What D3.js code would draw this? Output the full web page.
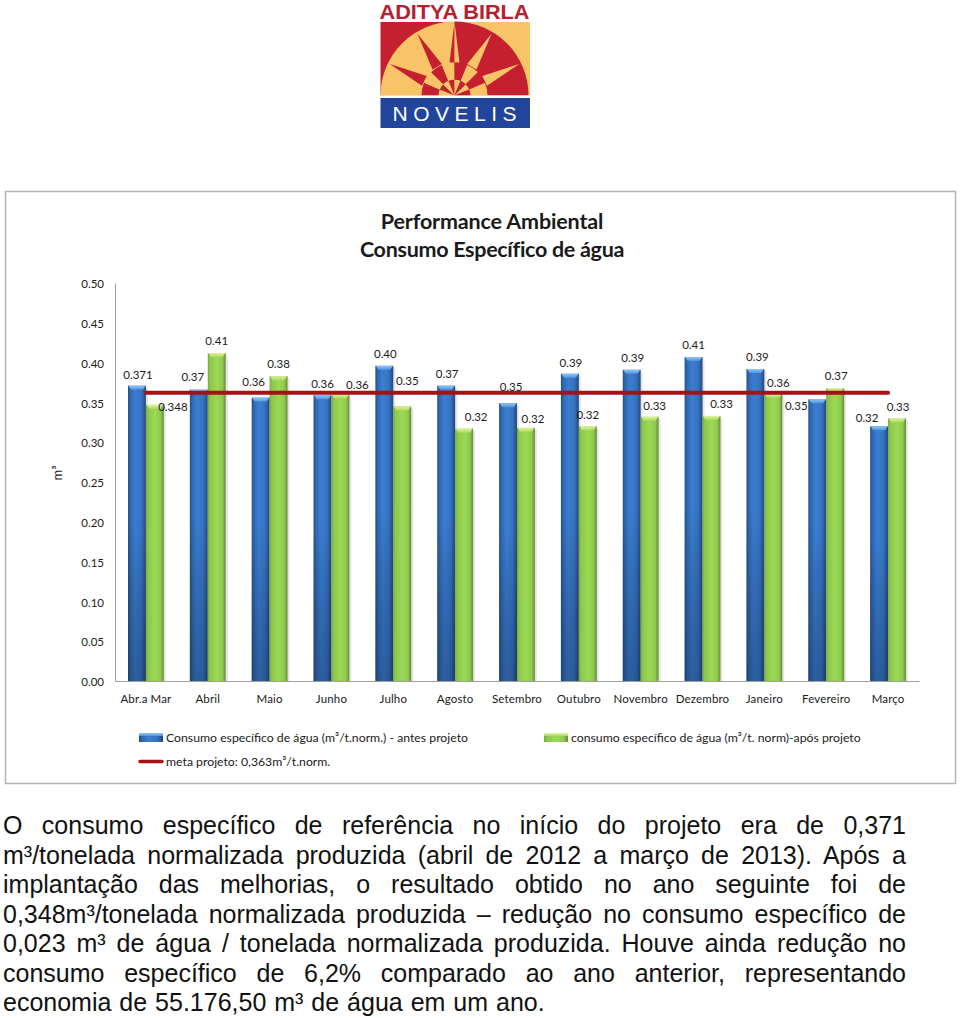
<!DOCTYPE html>
<html>
<head>
<meta charset="utf-8">
<script src="https://cdn.jsdelivr.net/npm/d3@7"></script>
<style>
    html, body { margin: 0; padding: 0; background: #fff; }
    #page { position: relative; width: 960px; height: 1018px; overflow: hidden; }
    svg { position: absolute; left: 0; top: 0; }
    svg text { font-family: Lato, sans-serif; fill: #1a1a1a; }
    #texto { position: absolute; left: 3px; top: 811px; width: 903px; font-family: "Liberation Sans", Arial, sans-serif; font-size: 25px; line-height: 29.5px; color: #111; }
    #texto div { text-align: justify; text-align-last: justify; white-space: nowrap; }
    #texto div:last-child { text-align-last: left; word-spacing: 1px; }
</style>
</head>
<body>
<div id="page"><div id="texto"></div></div>
<script>
var meses = ['Abr.a Mar', 'Abril', 'Maio', 'Junho', 'Julho', 'Agosto', 'Setembro', 'Outubro', 'Novembro', 'Dezembro', 'Janeiro', 'Fevereiro', 'Março'];

// bar heights
var antes = [0.371, 0.366, 0.356, 0.359, 0.396, 0.371, 0.349, 0.386, 0.391, 0.407, 0.392, 0.354, 0.32];
var apos = [0.347, 0.412, 0.383, 0.36, 0.345, 0.317, 0.318, 0.32, 0.332, 0.333, 0.361, 0.368, 0.33];
var meta = 0.362;

// the printed labels, they do not always agree with the bar
var antesLabels = ['0.371', '0.37', '0.36', '0.36', '0.40', '0.37', '0.35', '0.39', '0.39', '0.41', '0.39', '0.35', '0.32'];
var aposLabels = ['0.348', '0.41', '0.38', '0.36', '0.35', '0.32', '0.32', '0.32', '0.33', '0.33', '0.36', '0.37', '0.33'];

// labels were dragged by hand in the original, nudges from the bar top
var antesDx = [1, -6, -7, 0, 1, 1, 3, 1, 1, 0, 2, -21, -12];
var antesDy = [-11, -13, -16, -11, -12, -12, -16, -11, -12, -12, -12, 7, -8];
var aposDx = [18, 0, 0, 17, 5, 12, 7, 0, 5, 10, 5, 1, 1];
var aposDy = [2, -12, -12, -9, -25, -12, -9, -11, -11, -12, -11, -12, -11];

var ticks = [0, 0.05, 0.1, 0.15, 0.2, 0.25, 0.3, 0.35, 0.4, 0.45, 0.5];

var paragrafo = [
    'O consumo específico de referência no início do projeto era de 0,371',
    'm³/tonelada normalizada produzida (abril de 2012 a março de 2013). Após a',
    'implantação das melhorias, o resultado obtido no ano seguinte foi de',
    '0,348m³/tonelada normalizada produzida – redução no consumo específico de',
    '0,023 m³ de água / tonelada normalizada produzida. Houve ainda redução no',
    'consumo específico de 6,2% comparado ao ano anterior, representando',
    'economia de 55.176,50 m³ de água em um ano.'
];

var svg = d3.select('#page').insert('svg', '#texto')
    .attr('width', 960)
    .attr('height', 1018)
;

var defs = svg.append('defs');

function addGradient(id, x2, y2, stops) {
    var g = defs.append('linearGradient').attr('id', id)
        .attr('x1', 0).attr('y1', 0).attr('x2', x2).attr('y2', y2);
    stops.forEach(function (s) {
        g.append('stop').attr('offset', s[0]).attr('stop-color', s[1]).attr('stop-opacity', s[2] === undefined ? 1 : s[2]);
    });
}

addGradient('azul', 1, 0, [[0, '#23517f'], [0.14, '#2f69b4'], [0.4, '#3c7dd2'], [0.75, '#3673c2'], [1, '#204a7c']]);
addGradient('verde', 1, 0, [[0, '#7ba443'], [0.12, '#8cc84a'], [0.5, '#9bd956'], [0.82, '#8fca4c'], [1, '#64883a']]);
addGradient('azulTopo', 0, 1, [[0, '#8fc8f4'], [1, '#4f93dc']]);
addGradient('verdeTopo', 0, 1, [[0, '#e2f0a0'], [1, '#a8dc60']]);
addGradient('fundo', 0, 1, [[0, '#000', 0], [0.45, '#000', 0], [1, '#0a1a30', 0.3]]);

// frame
svg.append('rect')
    .attr('x', 5.5).attr('y', 191.5)
    .attr('width', 950).attr('height', 592)
    .attr('fill', '#fff').attr('stroke', '#b4b4b4').attr('stroke-width', 1.5);

// title
var titulo = svg.append('g').attr('text-anchor', 'middle').attr('font-weight', 700).attr('font-size', 21.5);
titulo.append('text').attr('x', 492).attr('y', 229).attr('letter-spacing', -0.15).text('Performance Ambiental');
titulo.append('text').attr('x', 492).attr('y', 257).attr('letter-spacing', -0.3).text('Consumo Específico de água');

var margin = {left: 115, right: 41, top: 283, bottom: 337};

var x0 = d3.scaleBand()
    .domain(meses)
    .range([margin.left, 960 - margin.right])
    .paddingInner(0.42)
    .paddingOuter(0.21)
;
var x1 = d3.scaleBand()
    .domain(['antes', 'apos'])
    .range([0, x0.bandwidth()])
;
var y = d3.scaleLinear()
    .domain([0, 0.5])
    .range([1018 - margin.bottom, margin.top])
;

// axes
var yAxis = d3.axisLeft(y).tickValues(ticks).tickFormat(d3.format('.2f')).tickSize(0).tickPadding(11);
var gy = svg.append('g').attr('transform', 'translate(' + margin.left + ',0)').call(yAxis);
gy.select('.domain').attr('stroke', '#a0a0a0');
gy.selectAll('text').attr('font-size', 11.5).attr('font-family', 'Lato, sans-serif').attr('y', 1);

var xAxis = d3.axisBottom(x0).tickSize(0).tickPadding(14);
var gx = svg.append('g').attr('transform', 'translate(0,' + y(0) + ')').call(xAxis);
gx.select('.domain').attr('stroke', '#a0a0a0');
gx.selectAll('text').attr('font-size', 11.5).attr('letter-spacing', 0.15).attr('font-family', 'Lato, sans-serif');

// m3 axis title
svg.append('text')
    .attr('transform', 'translate(62,473) rotate(-90)')
    .attr('text-anchor', 'middle')
    .attr('font-size', 13)
    .text('m³');

function drawBars(name, values, fill, cap, darken) {
    var g = svg.append('g').selectAll('g')
        .data(values)
        .join('g')
        .attr('transform', function (d, i) {
            return 'translate(' + (x0(meses[i]) + x1(name)) + ',' + y(d) + ')';
        });
    var w = x1.bandwidth();
    // soft shadow to the right
    g.append('rect')
        .attr('x', w).attr('y', 2).attr('width', 2)
        .attr('height', function (d) { return y(0) - y(d) - 2; })
        .attr('fill', '#000').attr('opacity', 0.1);
    g.append('rect')
        .attr('width', w)
        .attr('height', function (d) { return y(0) - y(d); })
        .attr('fill', 'url(#' + fill + ')');
    if (darken) {
        g.append('rect')
            .attr('width', w)
            .attr('height', function (d) { return y(0) - y(d); })
            .attr('fill', 'url(#fundo)');
    }
    g.append('path')
        .attr('d', 'M0.5,0H' + (w - 0.5) + 'L' + (w - 3) + ',4H3Z')
        .attr('fill', 'url(#' + cap + ')');
}

drawBars('antes', antes, 'azul', 'azulTopo', true);
drawBars('apos', apos, 'verde', 'verdeTopo', false);

// target line
var linha = d3.line()
    .x(function (d) { return x0(d) + x0.bandwidth() / 2; })
    .y(function () { return y(meta); });
svg.append('path')
    .attr('d', linha([meses[0], meses[meses.length - 1]]))
    .attr('fill', 'none')
    .attr('stroke', '#a80f16')
    .attr('stroke-width', 4)
    .attr('stroke-linecap', 'round');

function drawLabels(name, values, labels, dx, dy) {
    svg.append('g').selectAll('text')
        .data(labels)
        .join('text')
        .attr('text-anchor', 'middle')
        .attr('dominant-baseline', 'middle')
        .attr('font-size', 11.5)
        .attr('x', function (d, i) { return x0(meses[i]) + x1(name) + x1.bandwidth() / 2 + dx[i]; })
        .attr('y', function (d, i) { return y(values[i]) + dy[i] + 1; })
        .text(function (d) { return d; });
}

drawLabels('antes', antes, antesLabels, antesDx, antesDy);
drawLabels('apos', apos, aposLabels, aposDx, aposDy);

// legend
var legenda = svg.append('g').attr('font-size', 12.25);

function legendSwatch(xPos, yPos, fill, cap) {
    legenda.append('rect').attr('x', xPos).attr('y', yPos).attr('width', 24).attr('height', 9).attr('fill', 'url(#' + fill + ')');
    legenda.append('rect').attr('x', xPos).attr('y', yPos).attr('width', 24).attr('height', 3).attr('fill', 'url(#' + cap + ')');
}

legendSwatch(139, 733, 'azul', 'azulTopo');
legenda.append('text').attr('x', 166).attr('y', 742).text('Consumo específico de água (m³/t.norm.) - antes projeto');
legendSwatch(544, 733, 'verde', 'verdeTopo');
legenda.append('text').attr('x', 571).attr('y', 742).text('consumo específico de água (m³/t. norm)-após projeto');
legenda.append('line')
    .attr('x1', 140).attr('x2', 162).attr('y1', 761.5).attr('y2', 761.5)
    .attr('stroke', '#a80f16').attr('stroke-width', 3.4).attr('stroke-linecap', 'round');
legenda.append('text').attr('x', 166).attr('y', 766).text('meta projeto: 0,363m³/t.norm.');

// logo, no data in here
function drawLogo() {
    var red = '#c4202f', yellow = '#f9c368', blue = '#22459b';
    var cx = 454.5, cy = 95.5, r = 74;
    var logo = svg.append('g');
    var center = 'translate(' + cx + ',' + cy + ')';

    logo.append('text')
        .attr('x', cx).attr('y', 19)
        .attr('text-anchor', 'middle')
        .style('font-family', '"Liberation Sans", Arial, sans-serif')
        .style('fill', '#b5202f')
        .attr('font-weight', 700).attr('font-size', 20.5)
        .attr('textLength', 150)
        .attr('lengthAdjust', 'spacingAndGlyphs')
        .text('ADITYA BIRLA');

    logo.append('rect').attr('x', 380.5).attr('y', 22).attr('width', 74).attr('height', 73.5).attr('fill', red);
    logo.append('rect').attr('x', 454.5).attr('y', 22).attr('width', 75.5).attr('height', 73.5).attr('fill', yellow);

    var arc = d3.arc().innerRadius(0).outerRadius(r);
    logo.append('path').attr('transform', center)
        .attr('d', arc({startAngle: -Math.PI / 2, endAngle: 0})).attr('fill', yellow);
    logo.append('path').attr('transform', center)
        .attr('d', arc({startAngle: 0, endAngle: Math.PI / 2})).attr('fill', red);

    function pt(angle, radius) {
        return [Math.sin(angle) * radius, -Math.cos(angle) * radius];
    }

    // long spikes, left half red, right half yellow
    [[-64, red], [-31, red], [31, yellow], [64, yellow]].forEach(function (s) {
        var a = s[0] * Math.PI / 180;
        logo.append('path')
            .attr('transform', center)
            .attr('d', 'M' + pt(a, 72) + 'L' + pt(a - 0.16, 34) + 'L' + pt(a + 0.16, 34) + 'Z')
            .attr('fill', s[1]);
    });
    // the middle spike is split down the centre
    logo.append('path').attr('transform', center)
        .attr('d', 'M0,-73.5L-5,-33H0Z').attr('fill', red);
    logo.append('path').attr('transform', center)
        .attr('d', 'M0,-73.5L5,-33H0Z').attr('fill', yellow);

    // checkered fan in the middle
    var fan = d3.arc();
    var n = 8;
    d3.range(n).forEach(function (i) {
        var a0 = -Math.PI / 2 + i * Math.PI / n;
        var a1 = a0 + Math.PI / n;
        logo.append('path').attr('transform', center)
            .attr('d', fan({innerRadius: 0, outerRadius: 16, startAngle: a0, endAngle: a1}))
            .attr('fill', i % 2 ? red : yellow);
        logo.append('path').attr('transform', center)
            .attr('d', fan({innerRadius: 16, outerRadius: 33, startAngle: a0, endAngle: a1}))
            .attr('fill', i % 2 ? yellow : red);
    });

    logo.append('rect').attr('x', 380.5).attr('y', 95.5).attr('width', 149.5).attr('height', 2).attr('fill', '#fff');
    logo.append('rect').attr('x', 380.5).attr('y', 98).attr('width', 149.5).attr('height', 30).attr('fill', blue);
    logo.append('text')
        .attr('x', cx).attr('y', 121)
        .attr('text-anchor', 'middle')
        .style('font-family', '"Liberation Sans", Arial, sans-serif')
        .style('fill', '#fff')
        .attr('font-size', 21)
        .attr('textLength', 124)
        .text('NOVELIS');
}

drawLogo();

d3.select('#texto').selectAll('div')
    .data(paragrafo)
    .join('div')
    .text(function (d) { return d; });
</script>
</body>
</html>
